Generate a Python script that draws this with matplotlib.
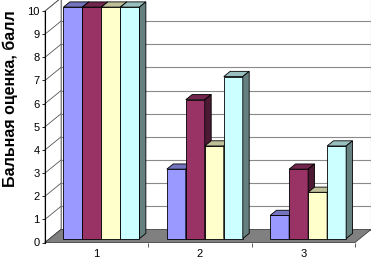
import matplotlib
matplotlib.use('Agg')
import matplotlib.pyplot as plt
import numpy as np
from matplotlib.patches import Polygon

plt.rcParams['font.family'] = ['Liberation Sans', 'DejaVu Sans']

# data
categories = ['1', '2', '3']
series_a = [10, 3, 1]
series_b = [10, 6, 3]
series_c = [10, 4, 2]
series_d = [10, 7, 4]
y_ticks = list(range(0, 11))
ylabel = 'Бальная оценка, балл'

colors = ['#9999FF', '#993366', '#FFFFCC', '#CCFFFF']

W, H = 371, 259
fig = plt.figure(figsize=(W / 100, H / 100), dpi=100)
# front plane of the 3d box, in pixels
x0, x1 = 45, 355
y0, y1 = 242.5, 11
ax = fig.add_axes([x0 / W, (H - y0) / H, (x1 - x0) / W, (y0 - y1) / H])
ax.set_xlim(0.5, 3.5)
ax.set_ylim(0, 10)
ax.patch.set_visible(False)

px_x = 3.0 / (x1 - x0)
px_y = 10.0 / (y0 - y1)
dx = 16 * px_x   # full depth offset
dy = 13 * px_y

# back wall + gridlines
ax.add_patch(Polygon([(0.5 + dx, dy), (3.5 + dx, dy), (3.5 + dx, 10 + dy), (0.5 + dx, 10 + dy)],
                     closed=True, fc='white', ec='#808080', lw=0.8, zorder=0, clip_on=False))
for v in y_ticks[1:]:
    ax.plot([0.5 + dx, 3.5 + dx], [v + dy, v + dy], color='#8a8a8a', lw=0.8, zorder=1, clip_on=False)
# left wall
ax.add_patch(Polygon([(0.5, 0), (0.5 + dx, dy), (0.5 + dx, 10 + dy), (0.5, 10)],
                     closed=True, fc='white', ec='#808080', lw=0.6, zorder=1, clip_on=False))
for v in y_ticks:
    ax.plot([0.5, 0.5 + dx], [v, v + dy], color='#555555', lw=0.6, zorder=2, clip_on=False)
# floor
ax.add_patch(Polygon([(0.5, 0), (3.5, 0), (3.5 + dx, dy), (0.5 + dx, dy)],
                     closed=True, fc='#808080', ec='#404040', lw=0.6, zorder=2, clip_on=False))


def shade(c, f):
    r, g, b = matplotlib.colors.to_rgb(c)
    return (r * f, g * f, b * f)


# bars sit between 0.3 and 0.7 of the depth
d0, d1 = 0.3, 0.7
bw = 19 * px_x
bdx = (d1 - d0) * dx
bdy = (d1 - d0) * dy
xs = np.arange(1, len(categories) + 1)
series = [series_a, series_b, series_c, series_d]
z = 3
for gi, cx in enumerate(xs):
    left0 = cx + d0 * dx - 2 * bw
    for si, vals in enumerate(series):
        v = vals[gi]
        l = left0 + si * bw
        b = d0 * dy
        ax.bar(l, v, width=bw, bottom=b, align='edge', color=colors[si],
               edgecolor='black', linewidth=0.6, zorder=z, clip_on=False)
        t = b + v
        r = l + bw
        ax.add_patch(Polygon([(l, t), (r, t), (r + bdx, t + bdy), (l + bdx, t + bdy)], closed=True,
                             fc=shade(colors[si], 0.75), ec='black', lw=0.6, zorder=z, clip_on=False))
        ax.add_patch(Polygon([(r, b), (r + bdx, b + bdy), (r + bdx, t + bdy), (r, t)], closed=True,
                             fc=shade(colors[si], 0.5), ec='black', lw=0.6, zorder=z, clip_on=False))
        z += 1

# axes
for s in ['top', 'right', 'bottom']:
    ax.spines[s].set_visible(False)
ax.spines['left'].set_color('black')
ax.spines['left'].set_linewidth(0.8)
ax.spines['left'].set_zorder(50)
ax.set_yticks(y_ticks)
ax.set_yticklabels([str(v) for v in y_ticks], fontsize=8)
ax.tick_params(axis='y', direction='out', length=2.5, width=0.6, pad=1.5)
ax.set_xticks(xs)
ax.set_xticklabels(categories, fontsize=8)
ax.set_xticks([1.5, 2.5, 3.5], minor=True)
ax.tick_params(axis='x', which='major', length=0, pad=4.5)
ax.tick_params(axis='x', which='minor', length=3, width=0.6, color='#404040')

fig.text(10 / W, 1 - 99 / H, ylabel, rotation=90, ha='center', va='center',
         fontsize=11.5, fontweight='bold')

fig.savefig('out.png', dpi=100)
